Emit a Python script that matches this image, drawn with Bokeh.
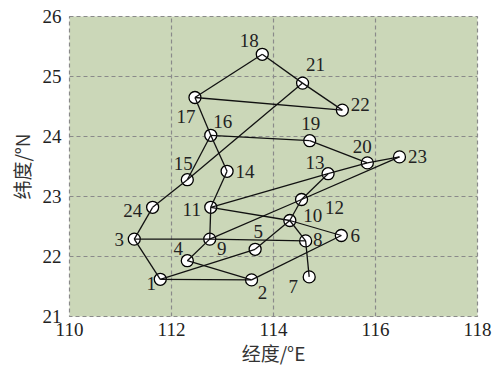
from bokeh.plotting import figure
from bokeh.models import ColumnDataSource, FixedTicker, Range1d
from bokeh.core.properties import value
from bokeh.embed import file_html
from bokeh.resources import INLINE

# Node positions (longitude °E, latitude °N)
node_ids = list(range(1, 25))
lon = [111.78, 113.57, 111.27, 112.31, 113.64, 115.33, 114.70, 114.63,
       112.75, 114.32, 112.77, 114.55, 115.07, 113.09, 112.31, 112.77,
       112.46, 113.78, 114.71, 115.84, 114.57, 115.35, 116.47, 111.63]
lat = [21.62, 21.61, 22.29, 21.93, 22.12, 22.35, 21.66, 22.26,
       22.29, 22.60, 22.82, 22.95, 23.38, 23.42, 23.28, 24.02,
       24.65, 25.37, 23.93, 23.56, 24.89, 24.44, 23.66, 22.82]

# Links between nodes
edges = [(1, 3), (1, 2), (1, 5), (2, 4), (2, 6), (3, 24), (3, 9), (4, 9),
         (5, 10), (6, 10), (7, 8), (8, 9), (8, 10), (9, 11), (9, 12),
         (10, 11), (10, 12), (11, 13), (11, 14), (12, 13), (12, 23),
         (13, 20), (14, 16), (15, 16), (15, 21), (15, 24), (16, 17),
         (16, 19), (17, 18), (17, 22), (18, 21), (19, 20), (20, 23),
         (21, 22)]

x_ticks = [110, 112, 114, 116, 118]
y_ticks = [21, 22, 23, 24, 25, 26]

# Screen-pixel placement of each node's number label (dx, dy)
label_offsets = {
    1: (-9, 4), 2: (11, 13), 3: (-15, 0), 4: (-9, -12), 5: (3, -18),
    6: (14, 0), 7: (-16, 10), 8: (12, -1), 9: (12, 9), 10: (23, -5),
    11: (-19, 2), 12: (33, 8), 13: (-13, -11), 14: (18, 0), 15: (-4, -16),
    16: (12, -14), 17: (-9, 19), 18: (-13, -14), 19: (1, -17),
    20: (-5, -16), 21: (13, -19), 22: (18, -6), 23: (18, 0), 24: (-20, 3),
}

serif = "Liberation Serif"
cjk = "Noto Sans CJK SC"

p = figure(width=492, height=365, output_backend="svg", toolbar_location=None,
           x_range=Range1d(110, 118), y_range=Range1d(21, 26),
           frame_width=408, frame_height=300,
           min_border_left=69, min_border_right=15,
           min_border_top=16, min_border_bottom=49)

p.background_fill_color = "#cbd7b8"
p.border_fill_color = "white"
p.outline_line_color = "#8a8a8a"
p.outline_line_dash = "4 3"
p.outline_line_width = 1.2

for g in (p.xgrid, p.ygrid):
    g.grid_line_color = "#8a8a8a"
    g.grid_line_dash = "4 3"
    g.grid_line_width = 1.2

p.xaxis.ticker = FixedTicker(ticks=x_ticks)
p.yaxis.ticker = FixedTicker(ticks=y_ticks)
for ax in (p.xaxis[0], p.yaxis[0]):
    ax.axis_line_color = None
    ax.major_tick_line_color = None
    ax.minor_tick_line_color = None
    ax.major_tick_out = 0
    ax.major_tick_in = 0
    ax.major_label_text_font = serif
    ax.major_label_text_font_size = "19px"
    ax.major_label_text_color = "#222222"
    ax.axis_label_text_font = cjk
    ax.axis_label_text_font_size = "19px"
    ax.axis_label_text_font_style = "normal"
    ax.axis_label_text_color = "#333333"

p.xaxis.axis_label = "经度/°E"
p.yaxis.axis_label = "纬度/°N"
p.xaxis.major_label_standoff = 6
p.yaxis.major_label_standoff = 8
p.xaxis.axis_label_standoff = 0
p.yaxis.axis_label_standoff = 5

idx = {n: i for i, n in enumerate(node_ids)}
seg = ColumnDataSource(dict(
    x0=[lon[idx[a]] for a, b in edges], y0=[lat[idx[a]] for a, b in edges],
    x1=[lon[idx[b]] for a, b in edges], y1=[lat[idx[b]] for a, b in edges],
))

nodes = ColumnDataSource(dict(
    x=lon, y=lat, label=[str(n) for n in node_ids],
    dx=[label_offsets[n][0] for n in node_ids],
    dy=[label_offsets[n][1] for n in node_ids],
))

p.scatter("x", "y", source=nodes, size=12, fill_color="white",
          line_color="black", line_width=1.3)
p.segment("x0", "y0", "x1", "y1", source=seg, line_color="#111111",
          line_width=1.3)

p.text("x", "y", text="label", source=nodes, x_offset="dx", y_offset="dy",
       text_font=value(serif), text_font_size="19px", text_color="#222222",
       text_align="center", text_baseline="middle")

open("out.html", "w").write(file_html(p, INLINE))
